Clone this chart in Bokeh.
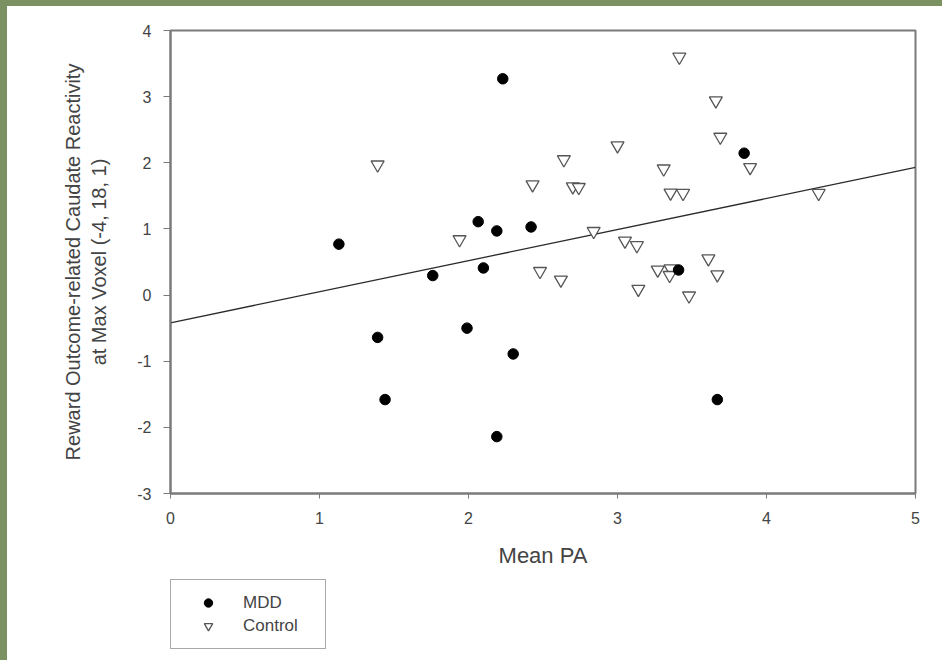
from bokeh.plotting import figure
from bokeh.layouts import column, row
from bokeh.models import Range1d, Legend, LegendItem, FixedTicker, CustomJSTickFormatter, Div
from bokeh.embed import file_html
from bokeh.resources import INLINE
import numpy as np

# ---- data ----
mdd_x = [2.23, 1.13, 2.065, 2.19, 2.42, 2.10, 1.76, 3.85, 3.41, 1.39, 1.99, 2.30, 1.44, 3.67, 2.19]
mdd_y = [3.27, 0.77, 1.11, 0.97, 1.03, 0.41, 0.295, 2.145, 0.38, -0.64, -0.50, -0.89, -1.58, -1.58, -2.14]

ctrl_x = [1.39, 2.43, 1.94, 2.48, 3.415, 3.66, 3.69, 3.00, 2.64, 3.31, 3.89, 2.70, 2.74,
          3.356, 3.44, 4.35, 2.84, 3.05, 3.13, 2.62, 3.27, 3.356, 3.35, 3.61, 3.67, 3.14, 3.48]
ctrl_y = [1.97, 1.67, 0.84, 0.36, 3.60, 2.94, 2.39, 2.26, 2.05, 1.91, 1.93, 1.64, 1.63,
          1.545, 1.54, 1.54, 0.965, 0.82, 0.75, 0.23, 0.38, 0.40, 0.30, 0.55, 0.31, 0.09, -0.01]

fit_intercept = -0.42
fit_slope = 0.47

x_ticks = [0, 1, 2, 3, 4, 5]
y_ticks = [-3, -2, -1, 0, 1, 2, 3, 4]

x_label = "Mean PA"
y_label = "Reward Outcome-related Caudate Reactivity\nat Max Voxel (-4, 18, 1)"
series_names = ["MDD", "Control"]

FONT = "Liberation Sans"
AX = "#7a7a7a"
TXT = "#444444"
GREEN = "#7b9162"

CTRL_STYLE = dict(marker="inverted_triangle", fill_color="white", line_color="#555555", line_width=1.3)
MDD_STYLE = dict(marker="circle", fill_color="black", line_color="black")

p = figure(width=935, height=572, output_backend="svg", toolbar_location=None,
           x_range=Range1d(x_ticks[0], x_ticks[-1]), y_range=Range1d(y_ticks[0], y_ticks[-1]),
           min_border_left=163, min_border_right=27, min_border_top=24, min_border_bottom=85,
           background_fill_color="white", border_fill_color="white")

p.grid.visible = False
p.outline_line_color = AX
p.outline_line_width = 2

fmt = CustomJSTickFormatter(code="return tick.toFixed(0);")
for ax in (p.xaxis[0], p.yaxis[0]):
    ax.formatter = fmt
    ax.axis_line_color = AX
    ax.axis_line_width = 2
    ax.major_tick_line_color = AX
    ax.major_tick_line_width = 1
    ax.major_tick_in = 0
    ax.minor_tick_line_color = None
    ax.major_label_text_font = FONT
    ax.major_label_text_font_size = "16px"
    ax.major_label_text_color = TXT
    ax.axis_label_text_font = FONT
    ax.axis_label_text_font_style = "normal"
    ax.axis_label_text_color = TXT

p.xaxis.ticker = FixedTicker(ticks=x_ticks)
p.yaxis.ticker = FixedTicker(ticks=y_ticks)
p.xaxis.major_tick_out = 5
p.yaxis.major_tick_out = 7
p.xaxis.major_label_standoff = 13
p.yaxis.major_label_standoff = 12
p.xaxis.axis_label = x_label
p.yaxis.axis_label = y_label
p.xaxis.axis_label_text_font_size = "22px"
p.yaxis.axis_label_text_font_size = "20px"
p.xaxis.axis_label_standoff = 16
p.yaxis.axis_label_standoff = 24

fit_x = np.array([x_ticks[0], x_ticks[-1]], dtype=float)
fit_y = fit_intercept + fit_slope * fit_x
p.line(fit_x, fit_y, line_color="#2a2a2a", line_width=1.3)

p.scatter(ctrl_x, ctrl_y, size=13, **CTRL_STYLE)
p.scatter(mdd_x, mdd_y, size=10.5, **MDD_STYLE)

# ---- legend panel below the chart (its glyphs sit outside its visible range) ----
lg = figure(width=935, height=82, output_backend="svg", toolbar_location=None,
            x_range=Range1d(100, 101), y_range=Range1d(100, 101),
            x_axis_location=None, y_axis_location=None,
            min_border_left=0, min_border_right=0, min_border_top=0, min_border_bottom=0,
            background_fill_color="white", border_fill_color="white")
lg.grid.visible = False
lg.outline_line_color = None
l_mdd = lg.scatter(mdd_x, mdd_y, size=10, **MDD_STYLE)
l_ctrl = lg.scatter(ctrl_x, ctrl_y, size=10, **CTRL_STYLE)

legend = Legend(items=[LegendItem(label=series_names[0], renderers=[l_mdd]),
                       LegendItem(label=series_names[1], renderers=[l_ctrl])],
                location=(0, 11), orientation="vertical")
legend.padding = 12
legend.spacing = 2
legend.margin = 0
legend.glyph_width = 50
legend.glyph_height = 21
legend.label_standoff = 10
legend.label_width = 70
legend.label_text_font = FONT
legend.label_text_font_size = "17px"
legend.label_text_color = TXT
legend.border_line_color = "#555555"
legend.border_line_width = 1.5
legend.background_fill_color = "white"
legend.background_fill_alpha = 1.0
lg.add_layout(legend, "center")

# green picture frame strips (top and left), as in the reference
top_strip = Div(text="", width=942, height=6, margin=0, styles={"background-color": GREEN})
left_strip = Div(text="", width=7, height=654, margin=0, styles={"background-color": GREEN})

layout = column(top_strip, row(left_strip, column(p, lg, spacing=0), spacing=0), spacing=0)
open("out.html", "w").write(file_html(layout, INLINE))
